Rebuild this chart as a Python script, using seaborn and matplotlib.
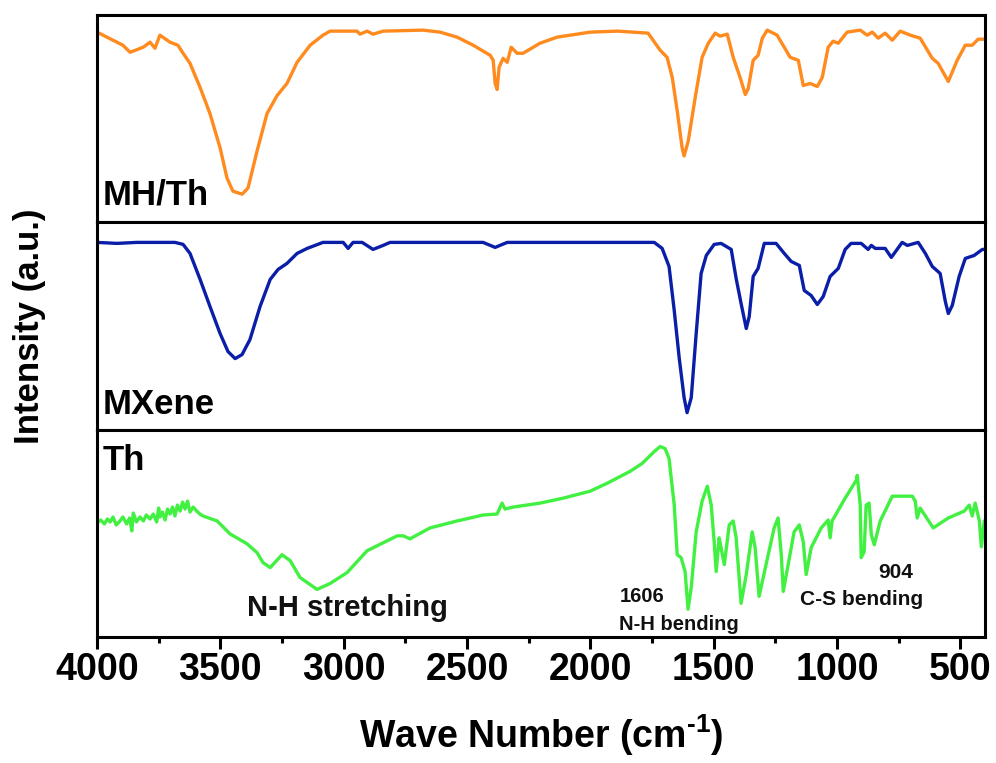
import numpy as np
import pandas as pd
import matplotlib
matplotlib.use('Agg')
import matplotlib.pyplot as plt
import seaborn as sns

# spectra (wave number in cm-1, intensity in a.u. per panel)
mhth_wn = [4000, 3895, 3866, 3813, 3785, 3765, 3745, 3704, 3672, 3651, 3623, 3582, 3542, 3501,
           3473, 3449, 3412, 3388, 3351, 3311, 3270, 3230, 3189, 3136, 3084, 3055, 2946, 2934,
           2905, 2881, 2840, 2678, 2609, 2540, 2475, 2406, 2394, 2386, 2378, 2370, 2354, 2337,
           2321, 2297, 2273, 2204, 2135, 2001, 1891, 1827, 1766, 1717, 1689, 1668, 1648, 1628,
           1620, 1603, 1575, 1547, 1522, 1494, 1474, 1445, 1421, 1393, 1372, 1360, 1340, 1320,
           1303, 1283, 1243, 1190, 1157, 1137, 1109, 1080, 1060, 1036, 1016, 995, 959, 906,
           878, 857, 833, 805, 776, 744, 703, 663, 614, 590, 549, 513, 480, 452, 428, 400]
mhth_int = [189, 176, 169, 174, 179, 173, 186, 179, 176, 168, 158, 134, 108, 74,
            44, 31, 28, 34, 71, 108, 126, 138, 159, 176, 186, 190, 190, 187,
            190, 187, 190, 191, 189, 184, 176, 166, 161, 138, 132, 154, 163, 159,
            174, 168, 168, 178, 184, 189, 190, 189, 188, 171, 164, 144, 111, 74,
            66, 81, 124, 164, 178, 188, 185, 187, 164, 144, 127, 133, 161, 166,
            183, 191, 186, 164, 161, 136, 138, 135, 144, 174, 180, 178, 189, 191,
            186, 189, 183, 188, 181, 190, 186, 183, 163, 158, 140, 161, 176, 176, 182, 182]

mxene_wn = [4000, 3919, 3839, 3684, 3651, 3623, 3582, 3542, 3501, 3469, 3440, 3412, 3380, 3339,
            3298, 3266, 3230, 3189, 3148, 3084, 3002, 2982, 2962, 2925, 2881, 2840, 2812, 2731,
            2435, 2386, 2337, 2001, 1741, 1709, 1681, 1660, 1640, 1620, 1608, 1591, 1571, 1551,
            1530, 1498, 1470, 1429, 1409, 1389, 1368, 1356, 1340, 1320, 1295, 1247, 1214, 1186,
            1153, 1133, 1105, 1080, 1056, 1028, 995, 967, 943, 902, 874, 861, 845, 805,
            780, 736, 715, 671, 642, 614, 582, 561, 549, 533, 505, 480, 444, 411, 400]
mxene_int = [187, 186, 187, 187, 185, 176, 150, 123, 96, 78, 71, 75, 90, 123,
             150, 160, 166, 176, 181, 187, 187, 181, 187, 187, 180, 184, 187, 187,
             187, 182, 187, 187, 187, 181, 163, 119, 72, 32, 17, 32, 96, 156,
             174, 185, 186, 180, 151, 126, 101, 113, 153, 161, 186, 186, 176, 168,
             164, 139, 134, 125, 133, 153, 161, 180, 186, 186, 180, 184, 181, 181,
             172, 187, 184, 187, 176, 163, 156, 128, 116, 124, 153, 171, 174, 180, 180]

th_wn = [4000, 3985, 3970, 3958, 3947, 3935, 3922, 3907, 3895, 3880, 3868, 3859, 3853, 3840,
         3826, 3812, 3800, 3785, 3772, 3758, 3750, 3745, 3735, 3724, 3714, 3704, 3694, 3684,
         3674, 3663, 3653, 3643, 3633, 3623, 3610, 3596, 3583, 3570, 3513, 3461, 3392, 3351,
         3327, 3298, 3250, 3217, 3177, 3108,
         3055, 2986, 2905, 2840, 2783, 2759, 2731, 2650, 2540, 2435, 2378, 2358, 2346, 2313,
         2204, 2110, 2001, 1932, 1839, 1790, 1741, 1717, 1697, 1681, 1660, 1648, 1632, 1616,
         1604, 1591, 1571, 1547, 1526, 1510, 1498, 1490, 1478, 1470, 1457, 1437, 1421, 1409,
         1389, 1368, 1344, 1332, 1316, 1279, 1255, 1239, 1226, 1218, 1198, 1174, 1153, 1137,
         1125, 1105, 1064, 1036, 1028, 1020, 967, 922, 918, 906, 902, 890, 882, 870,
         861, 849, 825, 776, 695, 683, 675, 663, 610, 549, 484, 464, 452, 440,
         423, 415, 403, 400]
th_int = [115, 118, 114, 119, 116, 121, 113, 117, 121, 114, 120, 107, 125, 116,
          121, 117, 123, 119, 124, 116, 130, 121, 126, 118, 129, 124, 131, 122,
          133, 127, 136, 129, 137, 126, 131, 127, 124, 122, 117, 104, 94, 85,
          75, 70, 83, 77, 60, 48,
          54, 65, 87, 95, 102, 102, 99, 110, 117, 123, 124, 135, 129, 131,
          135, 140, 147, 155, 167, 175, 187, 192, 190, 180, 133, 83, 80, 66,
          28, 50, 106, 137, 152, 133, 96, 66, 100, 90, 73, 113, 117, 100,
          34, 63, 106, 90, 41, 83, 110, 120, 83, 46, 73, 106, 113, 96,
          63, 90, 110, 118, 100, 117, 140, 158, 163, 133, 80, 86, 133, 135,
          103, 93, 117, 142, 142, 137, 120, 130, 110, 120, 127, 133, 122, 135,
          117, 91, 117, 117]

samples = ['MH/Th', 'MXene', 'Th']
colors = ['#FF8A1E', '#0A1EA8', '#42F042']
panel_tops = [206, 207, 209]

sns.set_theme(style='white')
plt.rcParams['font.family'] = ['Liberation Sans', 'DejaVu Sans']
plt.rcParams['font.weight'] = 'bold'
plt.rcParams['text.color'] = 'black'
plt.rcParams['xtick.color'] = 'black'
plt.rcParams['mathtext.fontset'] = 'custom'
plt.rcParams['mathtext.rm'] = 'Liberation Sans:bold'
plt.rcParams['mathtext.bf'] = 'Liberation Sans:bold'

fig, axes = plt.subplots(3, 1, figsize=(9.96, 7.63), dpi=100, sharex=True)
fig.subplots_adjust(left=0.0974, right=0.989, bottom=0.1651, top=0.9803, hspace=0)

data = [(mhth_wn, mhth_int), (mxene_wn, mxene_int), (th_wn, th_int)]
for ax, name, col, top, (wn, inten) in zip(axes, samples, colors, panel_tops, data):
    df = pd.DataFrame({'wn': wn, 'intensity': inten})
    sns.lineplot(data=df, x='wn', y='intensity', ax=ax, color=col, lw=2.4,
                 sort=False, estimator=None)
    ax.set_ylim(0, top)
    ax.set_xlim(4000, 400)
    ax.set_yticks([])
    ax.set_ylabel('')
    ax.set_xlabel('')
    for s in ax.spines.values():
        s.set_color('black')
        s.set_linewidth(2.2)
    ax.tick_params(axis='x', which='both', bottom=False, labelbottom=False)

axes[0].text(0.006, 0.087, 'MH/Th', transform=axes[0].transAxes, fontsize=25,
             fontweight='bold', va='baseline', ha='left')
axes[1].text(0.006, 0.077, 'MXene', transform=axes[1].transAxes, fontsize=25,
             fontweight='bold', va='baseline', ha='left')
axes[2].text(0.006, 0.804, 'Th', transform=axes[2].transAxes, fontsize=25,
             fontweight='bold', va='baseline', ha='left')

ax = axes[2]
ax.text(2986, 29, 'N-H stretching', fontsize=21, fontweight='bold', ha='center', va='center',
        color='#111111')
ax.text(1882, 41, '1606', fontsize=14.5, fontweight='bold', ha='left', va='center', color='#111111')
ax.text(1882, 13, 'N-H bending', fontsize=14.5, fontweight='bold', ha='left', va='center', color='#111111')
ax.text(764, 65, '904', fontsize=15, fontweight='bold', ha='center', va='center', color='#111111')
ax.text(902, 38, 'C-S bending', fontsize=15, fontweight='bold', ha='center', va='center', color='#111111')

ax.set_xticks([4000, 3500, 3000, 2500, 2000, 1500, 1000, 500])
ax.set_xticks([3750, 3250, 2750, 2250, 1750, 1250, 750], minor=True)
ax.tick_params(axis='x', which='major', bottom=True, labelbottom=True, direction='out',
               length=8.6, width=2.2, color='black', labelcolor='black', labelsize=27, pad=2)
ax.tick_params(axis='x', which='minor', bottom=True, direction='out', length=4.3,
               width=2.2, color='black')
for lab in ax.get_xticklabels():
    lab.set_fontweight('bold')
ax.set_xlabel(r'Wave Number (cm$^{\text{-}1}$)', fontsize=27, fontweight='bold', labelpad=18,
              color='black')

fig.text(30 / 996, 1 - 326 / 763, 'Intensity (a.u.)', rotation=90, fontsize=25,
         fontweight='bold', ha='center', va='center', color='black')

fig.savefig('out.png', dpi=100)
